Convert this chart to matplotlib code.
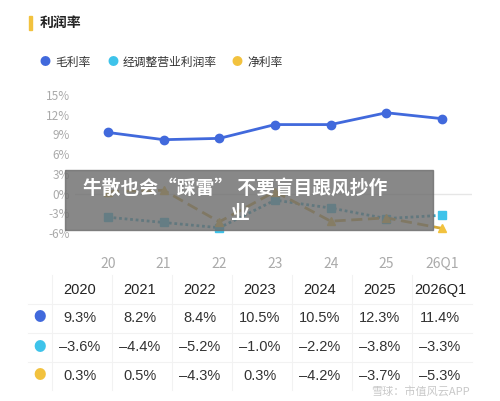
import matplotlib
matplotlib.use("Agg")
import matplotlib.pyplot as plt
from matplotlib.patches import Rectangle

plt.rcParams['font.family'] = ['Noto Sans CJK SC', 'DejaVu Sans']

cats = ["20", "21", "22", "23", "24", "25", "26Q1"]
years = ["2020", "2021", "2022", "2023", "2024", "2025", "2026Q1"]
gross = [9.3, 8.2, 8.4, 10.5, 10.5, 12.3, 11.4]
oper = [-3.6, -4.4, -5.2, -1.0, -2.2, -3.8, -3.3]
net = [0.3, 0.5, -4.3, 0.3, -4.2, -3.7, -5.3]
names = ["毛利率", "经调整营业利润率", "净利率"]
colors = ["#4169DC", "#3EC3EA", "#F2C23E"]

W, H = 500, 401
fig = plt.figure(figsize=(5, 4.01), dpi=100)
fig.patch.set_facecolor("white")

def fx(x): return x / W
def fy(y): return 1 - y / H

fig.patches.append(Rectangle((fx(29), fy(30)), fx(3), 14 / H, color="#F2C23E", transform=fig.transFigure))
fig.text(fx(40), fy(23), "利润率", fontsize=10, fontweight="bold", color="#222222", va="center")

lx = [45, 113, 237]
for i, n in enumerate(names):
    fig.text(fx(lx[i]), fy(62), "●", color=colors[i], fontsize=8, va="center", ha="center")
    fig.text(fx(lx[i] + 10), fy(62), n, color="#333333", fontsize=8.5, va="center")

l, r, t, b = 75, 472, 90, 240
ax = fig.add_axes([fx(l), fy(b), (r - l) / W, (b - t) / H])
ppx = (442 - 108) / 6
ax.set_xlim((l - 108) / ppx, (r - 108) / ppx)
ppy = (233 - 95) / 21
ax.set_ylim(-6 - (b - 233) / ppy, 15 + (95 - t) / ppy)
x = list(range(len(cats)))
ax.axhline(0, color="#e6e6e6", lw=1, zorder=0)
ax.plot(x, gross, color=colors[0], lw=2, marker="o", ms=6)
ax.plot(x, oper, color="#2FA5C8", lw=2, ls=(0, (1, 1)), marker="s", ms=6, mfc=colors[1], mec=colors[1])
ax.plot(x, net, color="#D4A838", lw=2, ls=(0, (4, 2)), marker="^", ms=6, mfc=colors[2], mec=colors[2])
ax.set_yticks([15, 12, 9, 6, 3, 0, -3, -6])
ax.set_yticklabels([f"{v}%" for v in [15, 12, 9, 6, 3, 0, -3, -6]])
ax.set_xticks(x)
ax.set_xticklabels(cats)
ax.tick_params(length=0, labelcolor="#aaaaaa", labelsize=8.5)
ax.tick_params(axis="x", pad=12, labelsize=10)
for s in ax.spines.values():
    s.set_visible(False)
ax.set_facecolor("none")

fig.patches.append(Rectangle((fx(65), fy(230)), fx(368), 60 / H, color="#6e6e6e", alpha=0.82, transform=fig.transFigure, zorder=10))
fig.text(fx(235), fy(188), "牛散也会“踩雷” 不要盲目跟风抄作", color="white", fontsize=13.5, fontweight="bold", ha="center", va="center", zorder=11)
fig.text(fx(240), fy(213), "业", color="white", fontsize=13.5, fontweight="bold", ha="center", va="center", zorder=11)

cx = [80, 140, 200, 260, 320, 380, 440]
ry = [290, 318, 347, 376]
for xx in [52, 112, 172, 232, 292, 352, 412]:
    fig.lines.append(plt.Line2D([fx(xx), fx(xx)], [fy(275), fy(390)], color="#f2f2f2", lw=0.8, transform=fig.transFigure))
for yy in [304, 333, 362]:
    fig.lines.append(plt.Line2D([fx(28), fx(472)], [fy(yy), fy(yy)], color="#f2f2f2", lw=0.8, transform=fig.transFigure))
num_font = ['Liberation Sans', 'DejaVu Sans']
for j, yr in enumerate(years):
    fig.text(fx(cx[j]), fy(ry[0]), yr, ha="center", va="center", fontsize=10.5, color="#222222", family=num_font)
for i, series in enumerate([gross, oper, net]):
    fig.text(fx(40), fy(ry[i + 1]), "●", color=colors[i], fontsize=9, ha="center", va="center")
    for j, v in enumerate(series):
        s = f"{v:.1f}%".replace("-", "–")
        fig.text(fx(cx[j]), fy(ry[i + 1]), s, ha="center", va="center", fontsize=10.5, color="#333333", family=num_font)

fig.text(fx(420), fy(391), "雪球：市值风云APP", color="#bbbbbb", fontsize=8, ha="center", va="center", alpha=0.8)

fig.savefig("out.png", dpi=100)
